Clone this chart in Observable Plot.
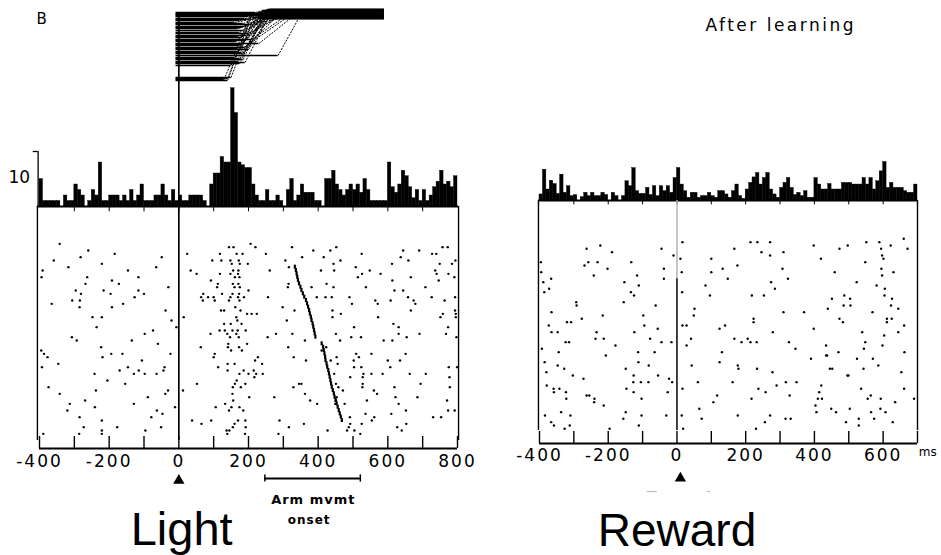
<!DOCTYPE html>
<html><head><meta charset="utf-8">
<script src="https://cdn.jsdelivr.net/npm/d3@7"></script>
<script src="https://cdn.jsdelivr.net/npm/@observablehq/plot@0.6"></script>
<style>
html,body{margin:0;padding:0;background:#fff;}
#fig{position:relative;width:941px;height:555px;overflow:hidden;background:#fff;}
#fig svg{position:absolute;left:0;top:0;background:transparent;}
</style></head><body><div id="fig"></div>
<script>
// ---------------- DATA ----------------
const binWidth = 10; // ms
// Light-aligned PSTH (10 ms bins from -400 to 800 ms)
const leftHist = [5,1,1,1,1,1,0,2,1,1,4,3,2,0,1,3,2,8,1,1,2,2,2,1,2,1,3,1,2,4,1,1,1,2,2,4,2,1,3,1,
  2,1,1,2,2,2,2,1,0,4,6,6,9,8,8,21.5,17,8,7.5,7,7,4,2,1,1,3,1,1,2,1,
  0,3,5,1,2,4,2.5,2.5,2.5,1,1,0,5,5,6.5,4,3,2,3,4,3,4,2.5,5,3,1,1,1,1,1,
  8,3.5,2.5,4,6.5,5.5,3.5,1.5,3,1,3,1,2,3.5,4.5,6.5,4,4.5,3.5,5.5];
// Reward-aligned PSTH (10 ms bins from -400 to 700 ms)
const rightHist = [1.1,5.6,2,3.6,3,1.2,4.7,1.4,2.6,0.8,1,0,0.6,1.4,0.8,1.4,0.8,0.8,1.4,1,
  0,1.4,0.8,0,0.8,3.5,2.6,5.9,1.7,1.2,1.2,2.3,1,2.6,0.8,2.6,1.7,2.6,1.4,4.1,
  5.9,2.9,1.7,0.5,1.4,1.4,0.5,0.8,0.8,1.4,0.8,0.5,1.7,1.7,1.1,0.5,1.7,2.9,0.8,0.3,
  2,3.2,4.2,5,2.9,4.1,5,2,1.1,0.5,2.3,3.2,4.1,2.3,1,1.4,0.8,1.7,0.5,0.5,
  4.1,2.9,2,2,3,2,2,2,3.2,3.2,3.2,2.9,2.9,2.9,4.1,2.9,4.1,2,3.5,5.3,
  7,2.3,3.2,2.3,2.3,2.3,1.7,1.4,1.4,2.9];
// Raster spikes [ms, trial]
const leftSpikes = [[-342,1],[-260,3],[-184,4],[-359,6],[-282,5],[-49,5],[-221,7],[-317,8],[-65,8],[-391,9],[-146,9],[-394,11],[-116,11],[-263,11],[-192,12],[-268,13],[-172,13],[-296,15],[-216,15],[-116,15],[-30,14],[-281,16],[-196,16],[-100,16],[-284,18],[-306,18],[-127,17],[-365,19],[-160,19],[-285,20],[-192,20],[-38,21],[-248,23],[-221,23],[-21,24],[-236,26],[-7,26],[-74,27],[-307,29],[-98,28],[-293,30],[-135,30],[-60,31],[-395,33],[-223,32],[-194,34],[-162,34],[-24,34],[-387,34],[-377,35],[-219,35],[-346,37],[-106,36],[-146,38],[-41,38],[-170,39],[-115,39],[-44,39],[-393,38],[-242,40],[-129,40],[-98,40],[-64,40],[-205,42],[-374,44],[-154,43],[-238,45],[-31,45],[-342,46],[-39,46],[-269,48],[-89,47],[-313,49],[-129,49],[-241,50],[-320,51],[-11,50],[-63,51],[-47,52],[-79,53],[-285,53],[-221,54],[-273,56],[-177,56],[-51,56],[-221,57],[-96,57],[-389,58],[-286,58],[-221,58],
[206,1],[144,2],[157,2],[220,2],[325,2],[452,2],[757,2],[772,2],[250,4],[386,3],[435,3],[644,3],[690,3],[24,4],[118,4],[166,4],[183,4],[416,5],[525,4],[637,5],[727,4],[739,4],[96,6],[122,6],[148,6],[172,6],[354,5],[464,6],[659,6],[794,6],[152,7],[175,7],[198,7],[306,6],[316,8],[444,7],[508,8],[612,7],[749,7],[784,7],[34,9],[51,10],[156,9],[171,9],[261,9],[408,9],[446,9],[548,9],[736,9],[118,10],[148,10],[170,10],[526,10],[579,10],[740,10],[774,10],[92,12],[161,11],[174,11],[514,11],[666,11],[791,11],[112,13],[155,13],[171,13],[315,13],[424,13],[613,12],[746,12],[110,14],[160,14],[175,14],[313,14],[381,14],[444,14],[537,14],[708,14],[70,16],[124,16],[154,16],[173,16],[200,15],[619,15],[644,15],[64,17],[84,17],[100,17],[148,17],[170,17],[187,17],[256,17],[396,17],[421,17],[439,17],[490,17],[658,17],[726,17],[793,17],[69,18],[103,18],[144,18],[174,18],[564,18],[608,18],[674,18],[763,18],[162,20],[298,20],[571,19],[679,19],[497,19],[121,21],[130,21],[177,21],[332,21],[441,21],[793,21],[666,21],[14,23],[165,23],[196,22],[209,22],[224,22],[465,22],[441,23],[795,22],[758,22],[168,24],[310,24],[572,23],[751,23],[795,23],[130,25],[149,25],[180,25],[616,25],[117,27],[132,27],[154,27],[169,27],[192,27],[503,26],[631,26],[773,26],[91,28],[139,28],[165,28],[279,28],[326,28],[451,28],[631,28],[691,28],[767,28],[147,29],[172,29],[255,29],[495,29],[523,29],[654,29],[797,29],[142,31],[196,31],[362,30],[463,30],[588,30],[613,30],[63,32],[141,32],[173,32],[314,32],[423,32],[103,34],[150,33],[181,33],[410,33],[509,34],[100,35],[227,35],[330,35],[517,35],[553,34],[651,34],[453,35],[113,38],[140,37],[160,37],[219,36],[239,37],[365,36],[436,36],[502,36],[600,36],[635,36],[456,37],[503,38],[607,38],[140,39],[186,39],[215,39],[524,38],[775,38],[799,38],[174,40],[200,40],[222,40],[241,40],[446,40],[530,40],[553,40],[585,40],[663,40],[709,40],[166,42],[217,41],[492,41],[777,41],[528,41],[161,43],[191,43],[52,43],[451,43],[694,43],[528,43],[329,44],[345,43],[352,43],[527,44],[619,44],[778,44],[12,45],[155,44],[178,44],[458,44],[560,45],[471,45],[154,46],[362,46],[453,47],[569,46],[622,47],[202,47],[274,47],[451,48],[540,48],[685,47],[770,48],[133,49],[156,48],[377,48],[631,49],[476,49],[106,50],[151,50],[174,50],[397,49],[449,49],[652,51],[144,51],[185,51],[610,52],[536,52],[792,51],[773,51],[554,54],[491,53],[38,54],[65,55],[93,54],[170,54],[191,54],[289,54],[525,55],[561,53],[730,53],[753,53],[653,55],[160,55],[359,55],[492,55],[488,56],[137,57],[145,57],[155,56],[192,56],[316,56],[627,56],[504,57],[139,58],[190,58],[286,58],[427,57],[483,57],[521,58],[640,57]];
// arm movement onset per trial (Light raster)
const armTrial = [8,9,10,11,12,13,14,15,16,17,18,19,20,21,22,23,24,25,26,27,28,29,31,32,33,34,35,36,37,38,39,40,41,42,43,44,45,46,47,48,49,50,51,52,53,54];
const armMs = [333,336,338,340,342,345,349,352,356,360,365,368,371,374,376,379,381,384,386,388,390,392,410,414,416,418,420,421,424,426,429,431,433,435,437,439,442,445,447,450,453,456,459,462,465,468];
const rightSpikes = [[660,0],[167,3],[214,1],[234,1],[271,1],[398,2],[497,2],[551,1],[589,1],[622,2],[671,3],[-263,3],[-223,2],[-189,4],[-45,3],[16,1],[246,4],[310,4],[473,3],[594,3],[597,5],[601,6],[271,5],[-10,5],[-396,7],[-258,7],[-231,7],[-269,8],[-133,7],[-38,9],[10,6],[100,6],[176,8],[307,9],[419,6],[548,7],[595,9],[-395,10],[-202,9],[-116,11],[-242,11],[-38,12],[14,10],[100,10],[133,9],[148,12],[323,12],[459,10],[597,11],[630,10],[581,14],[523,13],[-389,13],[-366,12],[-386,16],[-372,15],[-153,13],[-134,16],[-125,17],[-111,14],[15,16],[83,14],[96,17],[274,13],[218,17],[253,17],[285,15],[451,18],[487,17],[504,18],[605,15],[604,17],[626,18],[623,20],[485,20],[505,20],[-293,19],[-292,20],[-155,19],[-62,20],[-365,22],[-216,23],[-98,23],[51,21],[49,23],[310,22],[370,22],[439,21],[569,22],[644,21],[611,24],[611,25],[625,24],[661,26],[644,28],[-373,26],[-320,25],[-308,25],[-277,24],[-347,28],[-365,28],[-234,28],[-124,28],[-95,26],[-56,27],[16,26],[28,26],[124,27],[140,26],[223,24],[223,25],[483,25],[473,24],[398,27],[539,28],[279,28],[603,29],[548,31],[-314,31],[-324,31],[-393,33],[-344,34],[-237,30],[-213,30],[-179,32],[-78,30],[-45,31],[-16,31],[41,30],[28,32],[167,30],[188,31],[206,30],[214,31],[232,31],[326,31],[434,32],[434,35],[470,34],[544,33],[598,32],[570,36],[524,36],[662,34],[-385,37],[-380,40],[-347,38],[-328,39],[-303,41],[-272,42],[-207,35],[-149,39],[-113,34],[-112,37],[-126,41],[-82,38],[-55,41],[-65,34],[43,38],[131,34],[124,37],[177,38],[179,39],[233,39],[278,40],[345,33],[390,36],[437,35],[445,39],[452,39],[499,41],[543,39],[586,38],[653,40],[-379,44],[-359,45],[-342,45],[-358,46],[-323,46],[-322,48],[-263,47],[-255,47],[-240,48],[-241,49],[-213,50],[-147,45],[-127,43],[-126,46],[-105,43],[-103,48],[-83,43],[-23,42],[-27,46],[-14,43],[16,45],[61,43],[106,49],[117,47],[162,43],[217,48],[237,45],[258,46],[290,44],[317,43],[328,47],[348,43],[414,46],[420,44],[410,48],[422,48],[403,50],[496,41],[536,45],[564,47],[593,48],[635,49],[661,45],[690,48],[-384,53],[-366,55],[-358,56],[-337,52],[-310,53],[-312,56],[-327,57],[-196,57],[-156,54],[-149,52],[-103,53],[-111,56],[-31,53],[14,53],[18,57],[65,51],[72,54],[177,53],[230,57],[256,55],[271,53],[316,54],[331,54],[406,52],[449,51],[463,52],[492,55],[529,56],[503,51],[529,54],[565,52],[574,54],[592,51],[607,52],[628,55],[555,48]];
// arm position traces: start level, onset (ms), arrival (ms), final level
const traceStart  = [78,77,76,75,74,72,71,70,68,67,66,64,63,62,60,58,57,55,54,53,51,50,49,47,46,45,43,42,41,39,38,37,35,33,32,31,29,28,27,25,13,12,11,10];
const traceOnset  = [220,215,225,210,200,190,195,175,160,185,205,190,180,170,185,175,200,195,170,180,210,190,165,230,180,175,190,170,200,170,180,185,285,160,175,185,170,190,175,150,150,140,130,140];
const traceArrive = [240,245,250,255,260,265,250,255,250,262,300,270,258,250,275,262,290,320,252,260,300,270,245,335,258,255,285,252,270,310,262,260,350,240,248,250,262,265,235,230,215,210,205,210];
const traceFinal  = [80,79,78,81,77,76,80,75,74,79,73,78,77,72,76,81,75,80,74,79,73,78,77,76,72,80,75,74,79,73,78,81,76,77,75,80,74,79,72,78,73,77,75,76];
const traceEndMs = 590;
// axes
const leftTicks = [-400,-300,-200,-100,0,100,200,300,400,500,600,700,800];
const leftLabels = [-400,-200,0,200,400,600,800];
const rightTicks = [-400,-300,-200,-100,0,100,200,300,400,500,600,700];
const rightLabels = [-400,-200,0,200,400,600];
const armBar = [247, 521];

// ---------------- DRAW ----------------
const fig = document.getElementById("fig");
const axisFont = "DejaVu Sans";
const leftX = {domain: [-400, 800], range: [39, 457]};
const rightX = {domain: [-400, 700], range: [539, 917]};
const spacing = {"After learning": 2.5, "Arm mvmt": 1, "onset": 1};

function layer(x, y, marks) {
  const svg = Plot.plot({
    width: 941, height: 555, margin: 0,
    x: {...x, axis: null}, y: {...y, axis: null},
    style: {background: "transparent", overflow: "visible"},
    marks
  });
  d3.select(svg).selectAll("text").each(function() {
    const t = this.textContent;
    if (spacing[t] !== undefined) this.setAttribute("letter-spacing", spacing[t]);
    else if (/^-?\d+$/.test(t) && t !== "10") this.setAttribute("letter-spacing", 2);
  });
  fig.appendChild(svg);
  return svg;
}
const histRows = (arr) => arr.map((v, i) => ({x1: -400 + i * binWidth, x2: -400 + (i + 1) * binWidth, v}));
const spikeRows = (arr) => arr.map(([ms, t]) => ({ms, t}));
const traces = traceStart.map((s, i) => ({s, on: traceOnset[i], ar: traceArrive[i], f: traceFinal[i]}));
const arm = armTrial.map((t, i) => ({t, ms: armMs[i]}));

// Left: arm position traces
layer(leftX, {domain: [0, 80], range: [90, 10]}, [
  Plot.ruleY(traces, {y: "s", x1: -8, x2: "on", stroke: "black", strokeWidth: 1.4}),
  Plot.link(traces, {x1: "on", y1: "s", x2: "ar", y2: "f", stroke: "black", strokeWidth: 1, strokeDasharray: "2,1.2"}),
  Plot.ruleY(traces, {y: "f", x1: "ar", x2: traceEndMs, stroke: "black", strokeWidth: 1.4})
]);

// Left: histogram
layer(leftX, {domain: [0, 10], range: [206, 151]}, [
  Plot.rect(histRows(leftHist), {x1: "x1", x2: "x2", y1: 0, y2: "v", fill: "black", stroke: "black", strokeWidth: 0.4}),
  Plot.ruleY([0], {x1: -406, x2: 803, stroke: "black", strokeWidth: 1.8}),
  Plot.ruleX([-404], {y1: 0, y2: 10, stroke: "black", strokeWidth: 1.3}),
  Plot.ruleY([10], {x1: -418, x2: -404, stroke: "black", strokeWidth: 1.3}),
  Plot.text(["10"], {x: -458, y: 5.3, text: d => d, fontSize: 17, fontFamily: axisFont})
]);

// Left: raster
layer(leftX, {domain: [0, 60], range: [240, 440]}, [
  Plot.ruleX([-406, 803], {y1: -10.2, y2: 60, stroke: "black", strokeWidth: 1.4}),
  Plot.ruleX(leftTicks.slice(1, -1), {y1: -10.2, y2: -8.6, stroke: "black", strokeWidth: 1}),
  Plot.ruleX([0], {y1: -68.4, y2: 60, stroke: "black", strokeWidth: 1.7}),
  Plot.dot(spikeRows(leftSpikes), {x: "ms", y: "t", r: 1.2, fill: "black", stroke: "none"}),
  Plot.ruleX(arm, {x: "ms", y1: d => d.t - 0.6, y2: d => d.t + 0.6, stroke: "black", strokeWidth: 2.2})
]);

// Left: axis + annotations
layer(leftX, {domain: [0, 1], range: [448, 436]}, [
  Plot.ruleY([0], {x1: -400, x2: 800, stroke: "black", strokeWidth: 1.8}),
  Plot.ruleX(leftTicks, {y1: 0, y2: 1, stroke: "black", strokeWidth: 1.4}),
  Plot.text(leftLabels, {x: d => d, y: 0, dy: 13, text: d => String(d), fontSize: 17, fontFamily: axisFont}),
  Plot.dot([0], {x: d => d, y: -2.67, symbol: "triangle", r: 4.2, fill: "black", stroke: "none"}),
  Plot.ruleY([-2.5], {x1: armBar[0], x2: armBar[1], stroke: "black", strokeWidth: 1.8}),
  Plot.ruleX(armBar, {y1: -2.2, y2: -2.8, stroke: "black", strokeWidth: 1.5}),
  Plot.text(["Arm mvmt"], {x: 386, y: -4.25, text: d => d, fontSize: 13, fontWeight: "bold", fontFamily: axisFont}),
  Plot.text(["onset"], {x: 374, y: -6, text: d => d, fontSize: 12, fontWeight: "bold", fontFamily: axisFont}),
  Plot.text(["Light"], {x: 8, y: -8.08, text: d => d, lineAnchor: "bottom", fontSize: 47, fontFamily: "Liberation Sans"}),
  Plot.text(["B"], {x: -394, y: 35.8, text: d => d, fontSize: 15, fontFamily: axisFont})
]);

// Right: histogram
layer(rightX, {domain: [0, 10], range: [200, 145]}, [
  Plot.rect(histRows(rightHist), {x1: "x1", x2: "x2", y1: 0, y2: "v", fill: "black", stroke: "black", strokeWidth: 0.4}),
  Plot.ruleY([0], {x1: -403, x2: 700, stroke: "black", strokeWidth: 1.8}),
  Plot.ruleX(rightTicks.slice(1, -1), {y1: 0, y2: -0.8, stroke: "black", strokeWidth: 1})
]);

// Right: raster
layer(rightX, {domain: [0, 57], range: [238.3, 428.3]}, [
  Plot.ruleX([-403, 700], {y1: -11.5, y2: 57.5, stroke: "black", strokeWidth: 1.4}),
  Plot.ruleX([0], {y1: -11.5, y2: 12, stroke: "#b4b4b4", strokeWidth: 1.5}),
  Plot.ruleX([0], {y1: 12, y2: 57.5, stroke: "black", strokeWidth: 1.5}),
  Plot.dot(spikeRows(rightSpikes), {x: "ms", y: "t", r: 1.2, fill: "black", stroke: "none"})
]);

// Right: axis + annotations
layer(rightX, {domain: [0, 1], range: [443, 431]}, [
  Plot.ruleY([0], {x1: -400, x2: 700, stroke: "black", strokeWidth: 1.8}),
  Plot.ruleX(rightTicks, {y1: 0, y2: 1, stroke: "black", strokeWidth: 1.4}),
  Plot.text(rightLabels, {x: d => d, y: 0, dy: 12, text: d => String(d), fontSize: 17, fontFamily: axisFont}),
  Plot.text(["ms"], {x: 704, y: 0, dy: 9, text: d => d, textAnchor: "start", fontSize: 12, fontFamily: axisFont}),
  Plot.dot([10], {x: d => d, y: -2.9, symbol: "triangle", r: 4.2, fill: "black", stroke: "none"}),
  Plot.ruleY([-4], {x1: -86, x2: -57, stroke: "#bbbbbb", strokeWidth: 1.2}),
  Plot.ruleY([-4], {x1: 89, x2: 98, stroke: "#bbbbbb", strokeWidth: 1.2}),
  Plot.text(["Reward"], {x: 0, y: -8.5, text: d => d, lineAnchor: "bottom", fontSize: 46, fontFamily: "Liberation Sans"}),
  Plot.text(["After learning"], {x: 302, y: 34.8, text: d => d, fontSize: 17, fontFamily: axisFont})
]);
</script></body></html>
